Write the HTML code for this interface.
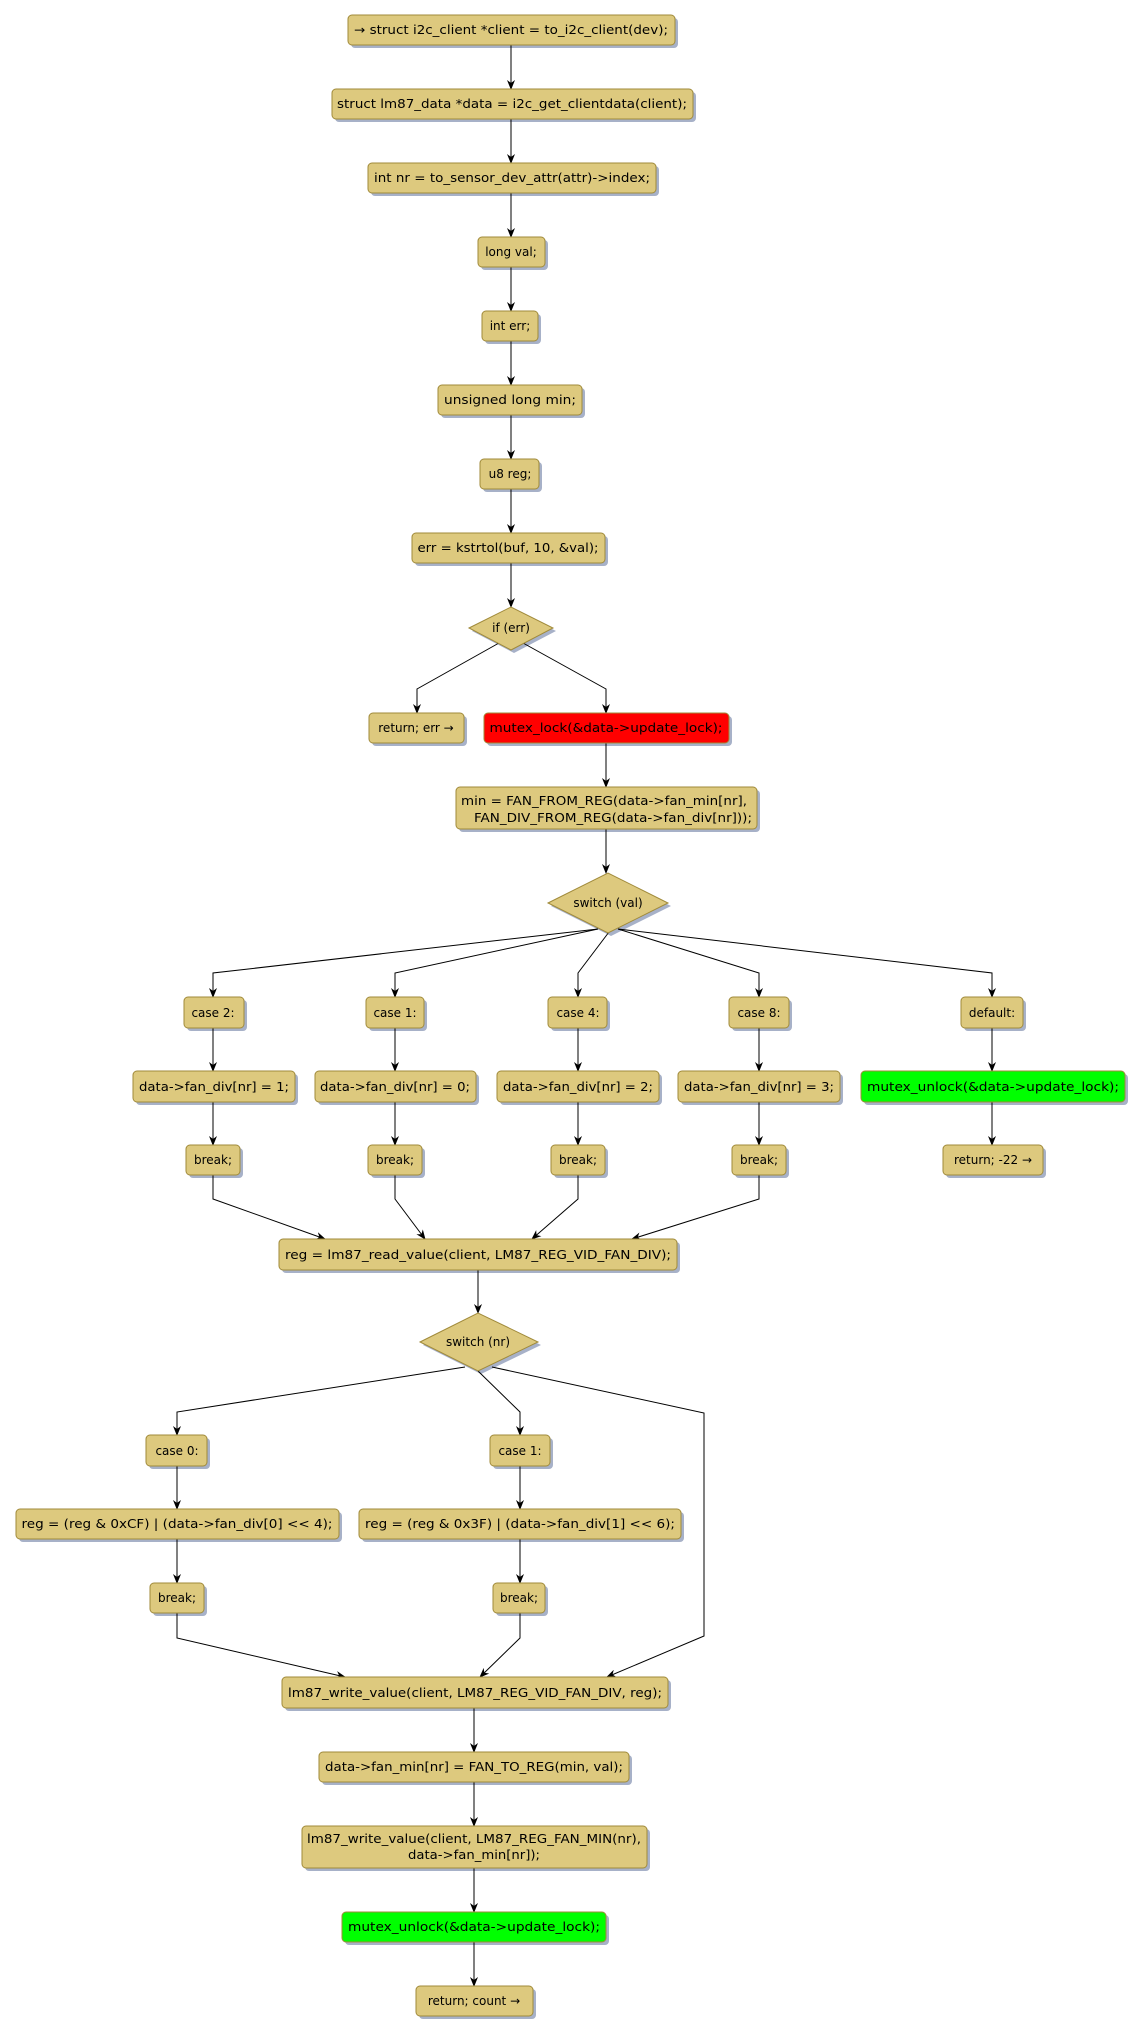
<!DOCTYPE html>
<html><head><meta charset="utf-8"><style>
html,body{margin:0;padding:0;background:#fff;}
svg{display:block;}
text{font-family:"DejaVu Sans","Liberation Sans",sans-serif;font-size:12px;fill:#000;}
.b{fill:#DDC97E;stroke:#A08A3A;stroke-width:1;}
.r{fill:#FF0000;stroke:#A08A3A;}
.g{fill:#00FF00;stroke:#A08A3A;}
.s{fill:#A7B1C8;}
.l{fill:none;stroke:#000;stroke-width:1;}
</style></head><body>
<svg width="1138" height="2034" viewBox="0 0 1138 2034" xmlns="http://www.w3.org/2000/svg">
<defs>
<marker id="a" markerWidth="10" markerHeight="10" refX="9" refY="4" orient="auto" markerUnits="userSpaceOnUse">
<polygon points="0,0 10,4 0,8 3,4" fill="#000"/></marker>
</defs>
<g id="shadows">
<rect class="s" x="351" y="18" width="327" height="30" rx="4"/>
<rect class="s" x="335" y="92" width="361" height="30" rx="4"/>
<rect class="s" x="371" y="166" width="288" height="30" rx="4"/>
<rect class="s" x="481" y="240" width="67" height="30" rx="4"/>
<rect class="s" x="485" y="314" width="56" height="30" rx="4"/>
<rect class="s" x="441" y="388" width="144" height="30" rx="4"/>
<rect class="s" x="483" y="462" width="59" height="30" rx="4"/>
<rect class="s" x="415" y="536" width="193" height="30" rx="4"/>
<polygon class="s" points="472,631 514,610 556,631 514,653"/>
<rect class="s" x="372" y="716" width="95" height="30" rx="4"/>
<rect class="s" x="487" y="716" width="245" height="30" rx="4"/>
<rect class="s" x="459" y="790" width="301" height="42" rx="4"/>
<polygon class="s" points="551,906 611,876 671,906 611,936"/>
<rect class="s" x="187" y="1000" width="60" height="31" rx="4"/>
<rect class="s" x="369" y="1000" width="58" height="31" rx="4"/>
<rect class="s" x="551" y="1000" width="59" height="31" rx="4"/>
<rect class="s" x="732" y="1000" width="60" height="31" rx="4"/>
<rect class="s" x="964" y="1000" width="62" height="31" rx="4"/>
<rect class="s" x="136" y="1074" width="162" height="31" rx="4"/>
<rect class="s" x="318" y="1074" width="161" height="31" rx="4"/>
<rect class="s" x="500" y="1074" width="162" height="31" rx="4"/>
<rect class="s" x="681" y="1074" width="162" height="31" rx="4"/>
<rect class="s" x="864" y="1074" width="264" height="31" rx="4"/>
<rect class="s" x="189" y="1148" width="54" height="30" rx="4"/>
<rect class="s" x="371" y="1148" width="54" height="30" rx="4"/>
<rect class="s" x="554" y="1148" width="54" height="30" rx="4"/>
<rect class="s" x="735" y="1148" width="54" height="30" rx="4"/>
<rect class="s" x="946" y="1148" width="100" height="30" rx="4"/>
<rect class="s" x="282" y="1242" width="398" height="31" rx="4"/>
<polygon class="s" points="423,1345 481,1316 541,1345 481,1374"/>
<rect class="s" x="149" y="1438" width="61" height="31" rx="4"/>
<rect class="s" x="493" y="1438" width="60" height="31" rx="4"/>
<rect class="s" x="19" y="1512" width="323" height="30" rx="4"/>
<rect class="s" x="362" y="1512" width="322" height="30" rx="4"/>
<rect class="s" x="153" y="1586" width="54" height="30" rx="4"/>
<rect class="s" x="496" y="1586" width="52" height="30" rx="4"/>
<rect class="s" x="285" y="1680" width="386" height="31" rx="4"/>
<rect class="s" x="322" y="1755" width="310" height="30" rx="4"/>
<rect class="s" x="305" y="1829" width="345" height="42" rx="4"/>
<rect class="s" x="345" y="1915" width="264" height="30" rx="4"/>
<rect class="s" x="419" y="1989" width="117" height="30" rx="4"/>
</g>
<g id="lines">
<line class="l" x1="511" y1="45" x2="511" y2="89" marker-end="url(#a)"/>
<line class="l" x1="511" y1="119" x2="511" y2="163" marker-end="url(#a)"/>
<line class="l" x1="511" y1="193" x2="511" y2="237" marker-end="url(#a)"/>
<line class="l" x1="511" y1="267" x2="511" y2="311" marker-end="url(#a)"/>
<line class="l" x1="511" y1="341" x2="511" y2="385" marker-end="url(#a)"/>
<line class="l" x1="511" y1="415" x2="511" y2="459" marker-end="url(#a)"/>
<line class="l" x1="511" y1="489" x2="511" y2="533" marker-end="url(#a)"/>
<line class="l" x1="511" y1="563" x2="511" y2="607" marker-end="url(#a)"/>
<polyline class="l" points="499,643 417,689 417,713" marker-end="url(#a)"/>
<polyline class="l" points="523,643 606,689 606,713" marker-end="url(#a)"/>
<line class="l" x1="606" y1="743" x2="606" y2="787" marker-end="url(#a)"/>
<line class="l" x1="606" y1="829" x2="606" y2="873" marker-end="url(#a)"/>
<polyline class="l" points="598,929 213,973 213,997" marker-end="url(#a)"/>
<polyline class="l" points="598,929 395,973 395,997" marker-end="url(#a)"/>
<polyline class="l" points="609,932 578,973 578,997" marker-end="url(#a)"/>
<polyline class="l" points="618,929 759,973 759,997" marker-end="url(#a)"/>
<polyline class="l" points="618,929 992,973 992,997" marker-end="url(#a)"/>
<line class="l" x1="213" y1="1028" x2="213" y2="1071" marker-end="url(#a)"/>
<line class="l" x1="395" y1="1028" x2="395" y2="1071" marker-end="url(#a)"/>
<line class="l" x1="578" y1="1028" x2="578" y2="1071" marker-end="url(#a)"/>
<line class="l" x1="759" y1="1028" x2="759" y2="1071" marker-end="url(#a)"/>
<line class="l" x1="992" y1="1028" x2="992" y2="1071" marker-end="url(#a)"/>
<line class="l" x1="213" y1="1102" x2="213" y2="1145" marker-end="url(#a)"/>
<line class="l" x1="395" y1="1102" x2="395" y2="1145" marker-end="url(#a)"/>
<line class="l" x1="578" y1="1102" x2="578" y2="1145" marker-end="url(#a)"/>
<line class="l" x1="759" y1="1102" x2="759" y2="1145" marker-end="url(#a)"/>
<line class="l" x1="992" y1="1102" x2="992" y2="1145" marker-end="url(#a)"/>
<polyline class="l" points="213,1175 213,1199 325,1239" marker-end="url(#a)"/>
<polyline class="l" points="395,1175 395,1199 425,1239" marker-end="url(#a)"/>
<polyline class="l" points="578,1175 578,1199 532,1239" marker-end="url(#a)"/>
<polyline class="l" points="759,1175 759,1199 632,1239" marker-end="url(#a)"/>
<line class="l" x1="478" y1="1270" x2="478" y2="1313" marker-end="url(#a)"/>
<polyline class="l" points="465,1367 177,1412 177,1435" marker-end="url(#a)"/>
<polyline class="l" points="478,1371 520,1412 520,1435" marker-end="url(#a)"/>
<polyline class="l" points="492,1367 704,1413 704,1636 607,1677" marker-end="url(#a)"/>
<line class="l" x1="177" y1="1466" x2="177" y2="1509" marker-end="url(#a)"/>
<line class="l" x1="520" y1="1466" x2="520" y2="1509" marker-end="url(#a)"/>
<line class="l" x1="177" y1="1539" x2="177" y2="1583" marker-end="url(#a)"/>
<line class="l" x1="520" y1="1539" x2="520" y2="1583" marker-end="url(#a)"/>
<polyline class="l" points="177,1613 177,1638 345,1677" marker-end="url(#a)"/>
<polyline class="l" points="520,1613 520,1638 480,1677" marker-end="url(#a)"/>
<line class="l" x1="474" y1="1708" x2="474" y2="1752" marker-end="url(#a)"/>
<line class="l" x1="474" y1="1782" x2="474" y2="1826" marker-end="url(#a)"/>
<line class="l" x1="474" y1="1868" x2="474" y2="1912" marker-end="url(#a)"/>
<line class="l" x1="474" y1="1942" x2="474" y2="1986" marker-end="url(#a)"/>
</g>
<g id="nodes" text-anchor="middle">
<rect class="b" x="348" y="15" width="327" height="30" rx="4"/><text x="511" y="34" textLength="314" lengthAdjust="spacingAndGlyphs">→ struct i2c_client *client = to_i2c_client(dev);</text>
<rect class="b" x="332" y="89" width="361" height="30" rx="4"/><text x="512" y="108" textLength="350" lengthAdjust="spacingAndGlyphs">struct lm87_data *data = i2c_get_clientdata(client);</text>
<rect class="b" x="368" y="163" width="288" height="30" rx="4"/><text x="512" y="182" textLength="276" lengthAdjust="spacingAndGlyphs">int nr = to_sensor_dev_attr(attr)-&gt;index;</text>
<rect class="b" x="478" y="237" width="67" height="30" rx="4"/><text x="511" y="256">long val;</text>
<rect class="b" x="482" y="311" width="56" height="30" rx="4"/><text x="510" y="330">int err;</text>
<rect class="b" x="438" y="385" width="144" height="30" rx="4"/><text x="510" y="404" textLength="132" lengthAdjust="spacingAndGlyphs">unsigned long min;</text>
<rect class="b" x="480" y="459" width="59" height="30" rx="4"/><text x="510" y="478">u8 reg;</text>
<rect class="b" x="412" y="533" width="193" height="30" rx="4"/><text x="508" y="552" textLength="181" lengthAdjust="spacingAndGlyphs">err = kstrtol(buf, 10, &amp;val);</text>
<polygon class="b" points="469,628 511,607 553,628 511,650"/><text x="511" y="632">if (err)</text>
<rect class="b" x="369" y="713" width="95" height="30" rx="4"/><text x="416" y="732">return; err →</text>
<rect class="r" x="484" y="713" width="245" height="30" rx="4"/><text x="606" y="732" textLength="233" lengthAdjust="spacingAndGlyphs">mutex_lock(&amp;data-&gt;update_lock);</text>
<rect class="b" x="456" y="787" width="301" height="42" rx="4"/><text x="604" y="805" textLength="286" lengthAdjust="spacingAndGlyphs">min = FAN_FROM_REG(data-&gt;fan_min[nr],</text><text x="613" y="822" textLength="278" lengthAdjust="spacingAndGlyphs">FAN_DIV_FROM_REG(data-&gt;fan_div[nr]));</text>
<polygon class="b" points="548,903 608,873 668,903 608,933"/><text x="608" y="907">switch (val)</text>
<rect class="b" x="184" y="997" width="60" height="31" rx="4"/><text x="213" y="1017">case 2:</text>
<rect class="b" x="366" y="997" width="58" height="31" rx="4"/><text x="395" y="1017">case 1:</text>
<rect class="b" x="548" y="997" width="59" height="31" rx="4"/><text x="578" y="1017">case 4:</text>
<rect class="b" x="729" y="997" width="60" height="31" rx="4"/><text x="759" y="1017">case 8:</text>
<rect class="b" x="961" y="997" width="62" height="31" rx="4"/><text x="992" y="1017">default:</text>
<rect class="b" x="133" y="1071" width="162" height="31" rx="4"/><text x="214" y="1091" textLength="150" lengthAdjust="spacingAndGlyphs">data-&gt;fan_div[nr] = 1;</text>
<rect class="b" x="315" y="1071" width="161" height="31" rx="4"/><text x="395" y="1091" textLength="150" lengthAdjust="spacingAndGlyphs">data-&gt;fan_div[nr] = 0;</text>
<rect class="b" x="497" y="1071" width="162" height="31" rx="4"/><text x="578" y="1091" textLength="150" lengthAdjust="spacingAndGlyphs">data-&gt;fan_div[nr] = 2;</text>
<rect class="b" x="678" y="1071" width="162" height="31" rx="4"/><text x="759" y="1091" textLength="150" lengthAdjust="spacingAndGlyphs">data-&gt;fan_div[nr] = 3;</text>
<rect class="g" x="861" y="1071" width="264" height="31" rx="4"/><text x="993" y="1091" textLength="252" lengthAdjust="spacingAndGlyphs">mutex_unlock(&amp;data-&gt;update_lock);</text>
<rect class="b" x="186" y="1145" width="54" height="30" rx="4"/><text x="213" y="1164">break;</text>
<rect class="b" x="368" y="1145" width="54" height="30" rx="4"/><text x="395" y="1164">break;</text>
<rect class="b" x="551" y="1145" width="54" height="30" rx="4"/><text x="578" y="1164">break;</text>
<rect class="b" x="732" y="1145" width="54" height="30" rx="4"/><text x="759" y="1164">break;</text>
<rect class="b" x="943" y="1145" width="100" height="30" rx="4"/><text x="993" y="1164">return; -22 →</text>
<rect class="b" x="279" y="1239" width="398" height="31" rx="4"/><text x="478" y="1259" textLength="386" lengthAdjust="spacingAndGlyphs">reg = lm87_read_value(client, LM87_REG_VID_FAN_DIV);</text>
<polygon class="b" points="420,1342 478,1313 538,1342 478,1371"/><text x="478" y="1346">switch (nr)</text>
<rect class="b" x="146" y="1435" width="61" height="31" rx="4"/><text x="177" y="1455">case 0:</text>
<rect class="b" x="490" y="1435" width="60" height="31" rx="4"/><text x="520" y="1455">case 1:</text>
<rect class="b" x="16" y="1509" width="323" height="30" rx="4"/><text x="177" y="1528" textLength="311" lengthAdjust="spacingAndGlyphs">reg = (reg &amp; 0xCF) | (data-&gt;fan_div[0] &lt;&lt; 4);</text>
<rect class="b" x="359" y="1509" width="322" height="30" rx="4"/><text x="520" y="1528" textLength="310" lengthAdjust="spacingAndGlyphs">reg = (reg &amp; 0x3F) | (data-&gt;fan_div[1] &lt;&lt; 6);</text>
<rect class="b" x="150" y="1583" width="54" height="30" rx="4"/><text x="177" y="1602">break;</text>
<rect class="b" x="493" y="1583" width="52" height="30" rx="4"/><text x="519" y="1602">break;</text>
<rect class="b" x="282" y="1677" width="386" height="31" rx="4"/><text x="475" y="1697" textLength="374" lengthAdjust="spacingAndGlyphs">lm87_write_value(client, LM87_REG_VID_FAN_DIV, reg);</text>
<rect class="b" x="319" y="1752" width="310" height="30" rx="4"/><text x="474" y="1771" textLength="298" lengthAdjust="spacingAndGlyphs">data-&gt;fan_min[nr] = FAN_TO_REG(min, val);</text>
<rect class="b" x="302" y="1826" width="345" height="42" rx="4"/><text x="474" y="1843" textLength="334" lengthAdjust="spacingAndGlyphs">lm87_write_value(client, LM87_REG_FAN_MIN(nr),</text><text x="474" y="1859" textLength="132" lengthAdjust="spacingAndGlyphs">data-&gt;fan_min[nr]);</text>
<rect class="g" x="342" y="1912" width="264" height="30" rx="4"/><text x="474" y="1931" textLength="252" lengthAdjust="spacingAndGlyphs">mutex_unlock(&amp;data-&gt;update_lock);</text>
<rect class="b" x="416" y="1986" width="117" height="30" rx="4"/><text x="474" y="2005">return; count →</text>
</g>
</svg>
</body></html>
